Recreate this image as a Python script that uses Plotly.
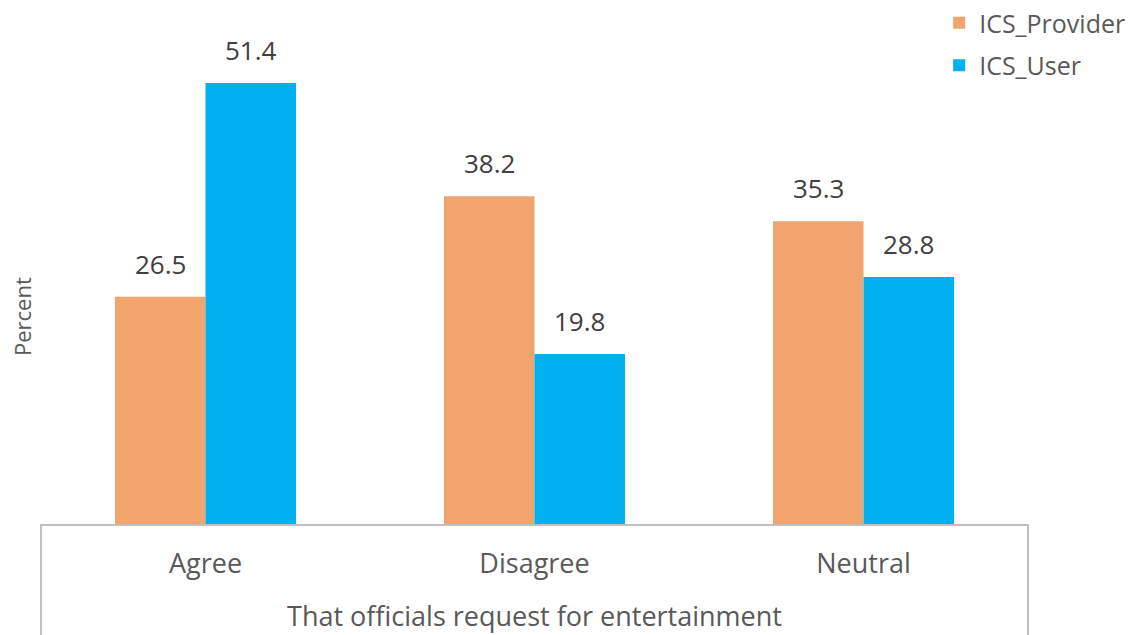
import plotly.graph_objects as go

categories = ["Agree", "Disagree", "Neutral"]
provider = [26.5, 38.2, 35.3]
user = [51.4, 19.8, 28.8]
series_names = ["ICS_Provider", "ICS_User"]
colors = ["#F1A46E", "#00B0F0"]
x_title = "That officials request for entertainment"
y_title = "Percent"

W, H = 1129, 635
ml, mr, mt, mb = 41, 101, 0, 111
ph = H - mt - mb
bargap = 0.45
y_max = ph / 8.58

fig = go.Figure()
for name, vals, col in zip(series_names, [provider, user], colors):
    fig.add_trace(go.Bar(
        x=categories, y=vals, name=name, marker=dict(color=col, line=dict(width=0)),
        legendgroup=name,
    ))

# data labels via annotations on category axis
half = (1 - bargap) / 4
for si, vals in enumerate([provider, user]):
    off = -half if si == 0 else half
    for ci, v in enumerate(vals):
        fig.add_annotation(
            x=ci + off, y=v, xref="x", yref="y", text=f"{v:.1f}", showarrow=False,
            yanchor="bottom", yshift=13,
            font=dict(family="Open Sans", size=26, color="#404040"),
        )

fig.add_annotation(
    x=(22 - ml) / (W - ml - mr), y=(H - mb - 317) / ph, xref="paper", yref="paper",
    text=y_title, textangle=-90, showarrow=False, xanchor="center", yanchor="middle",
    font=dict(family="Open Sans", size=22, color="#595959"),
)

for xp in [0, 1]:
    fig.add_shape(type="line", xref="paper", yref="paper", x0=xp, x1=xp, y0=0,
                  y1=-mb / ph, line=dict(color="#BFBFBF", width=2))

fig.update_layout(
    width=W, height=H, margin=dict(l=ml, r=mr, t=mt, b=mb, autoexpand=False),
    paper_bgcolor="white", plot_bgcolor="white",
    barmode="group", bargap=bargap, bargroupgap=0,
    font=dict(family="Open Sans", color="#595959"),
    xaxis=dict(
        showline=True, linecolor="#BFBFBF", linewidth=2, ticks="outside", ticklen=15,
        tickcolor="rgba(0,0,0,0)", tickfont=dict(size=27, color="#595959"),
        title=dict(text=x_title, font=dict(size=27, color="#595959"), standoff=27),
        showgrid=False, zeroline=False, automargin=False,
    ),
    yaxis=dict(range=[0, y_max], visible=False),
    legend=dict(
        x=0.91, y=1.0, xanchor="left", yanchor="top",
        font=dict(size=25, color="#595959"), traceorder="grouped", tracegroupgap=7,
        bgcolor="rgba(0,0,0,0)",
    ),
    showlegend=True,
)

fig.write_html("out.html")
